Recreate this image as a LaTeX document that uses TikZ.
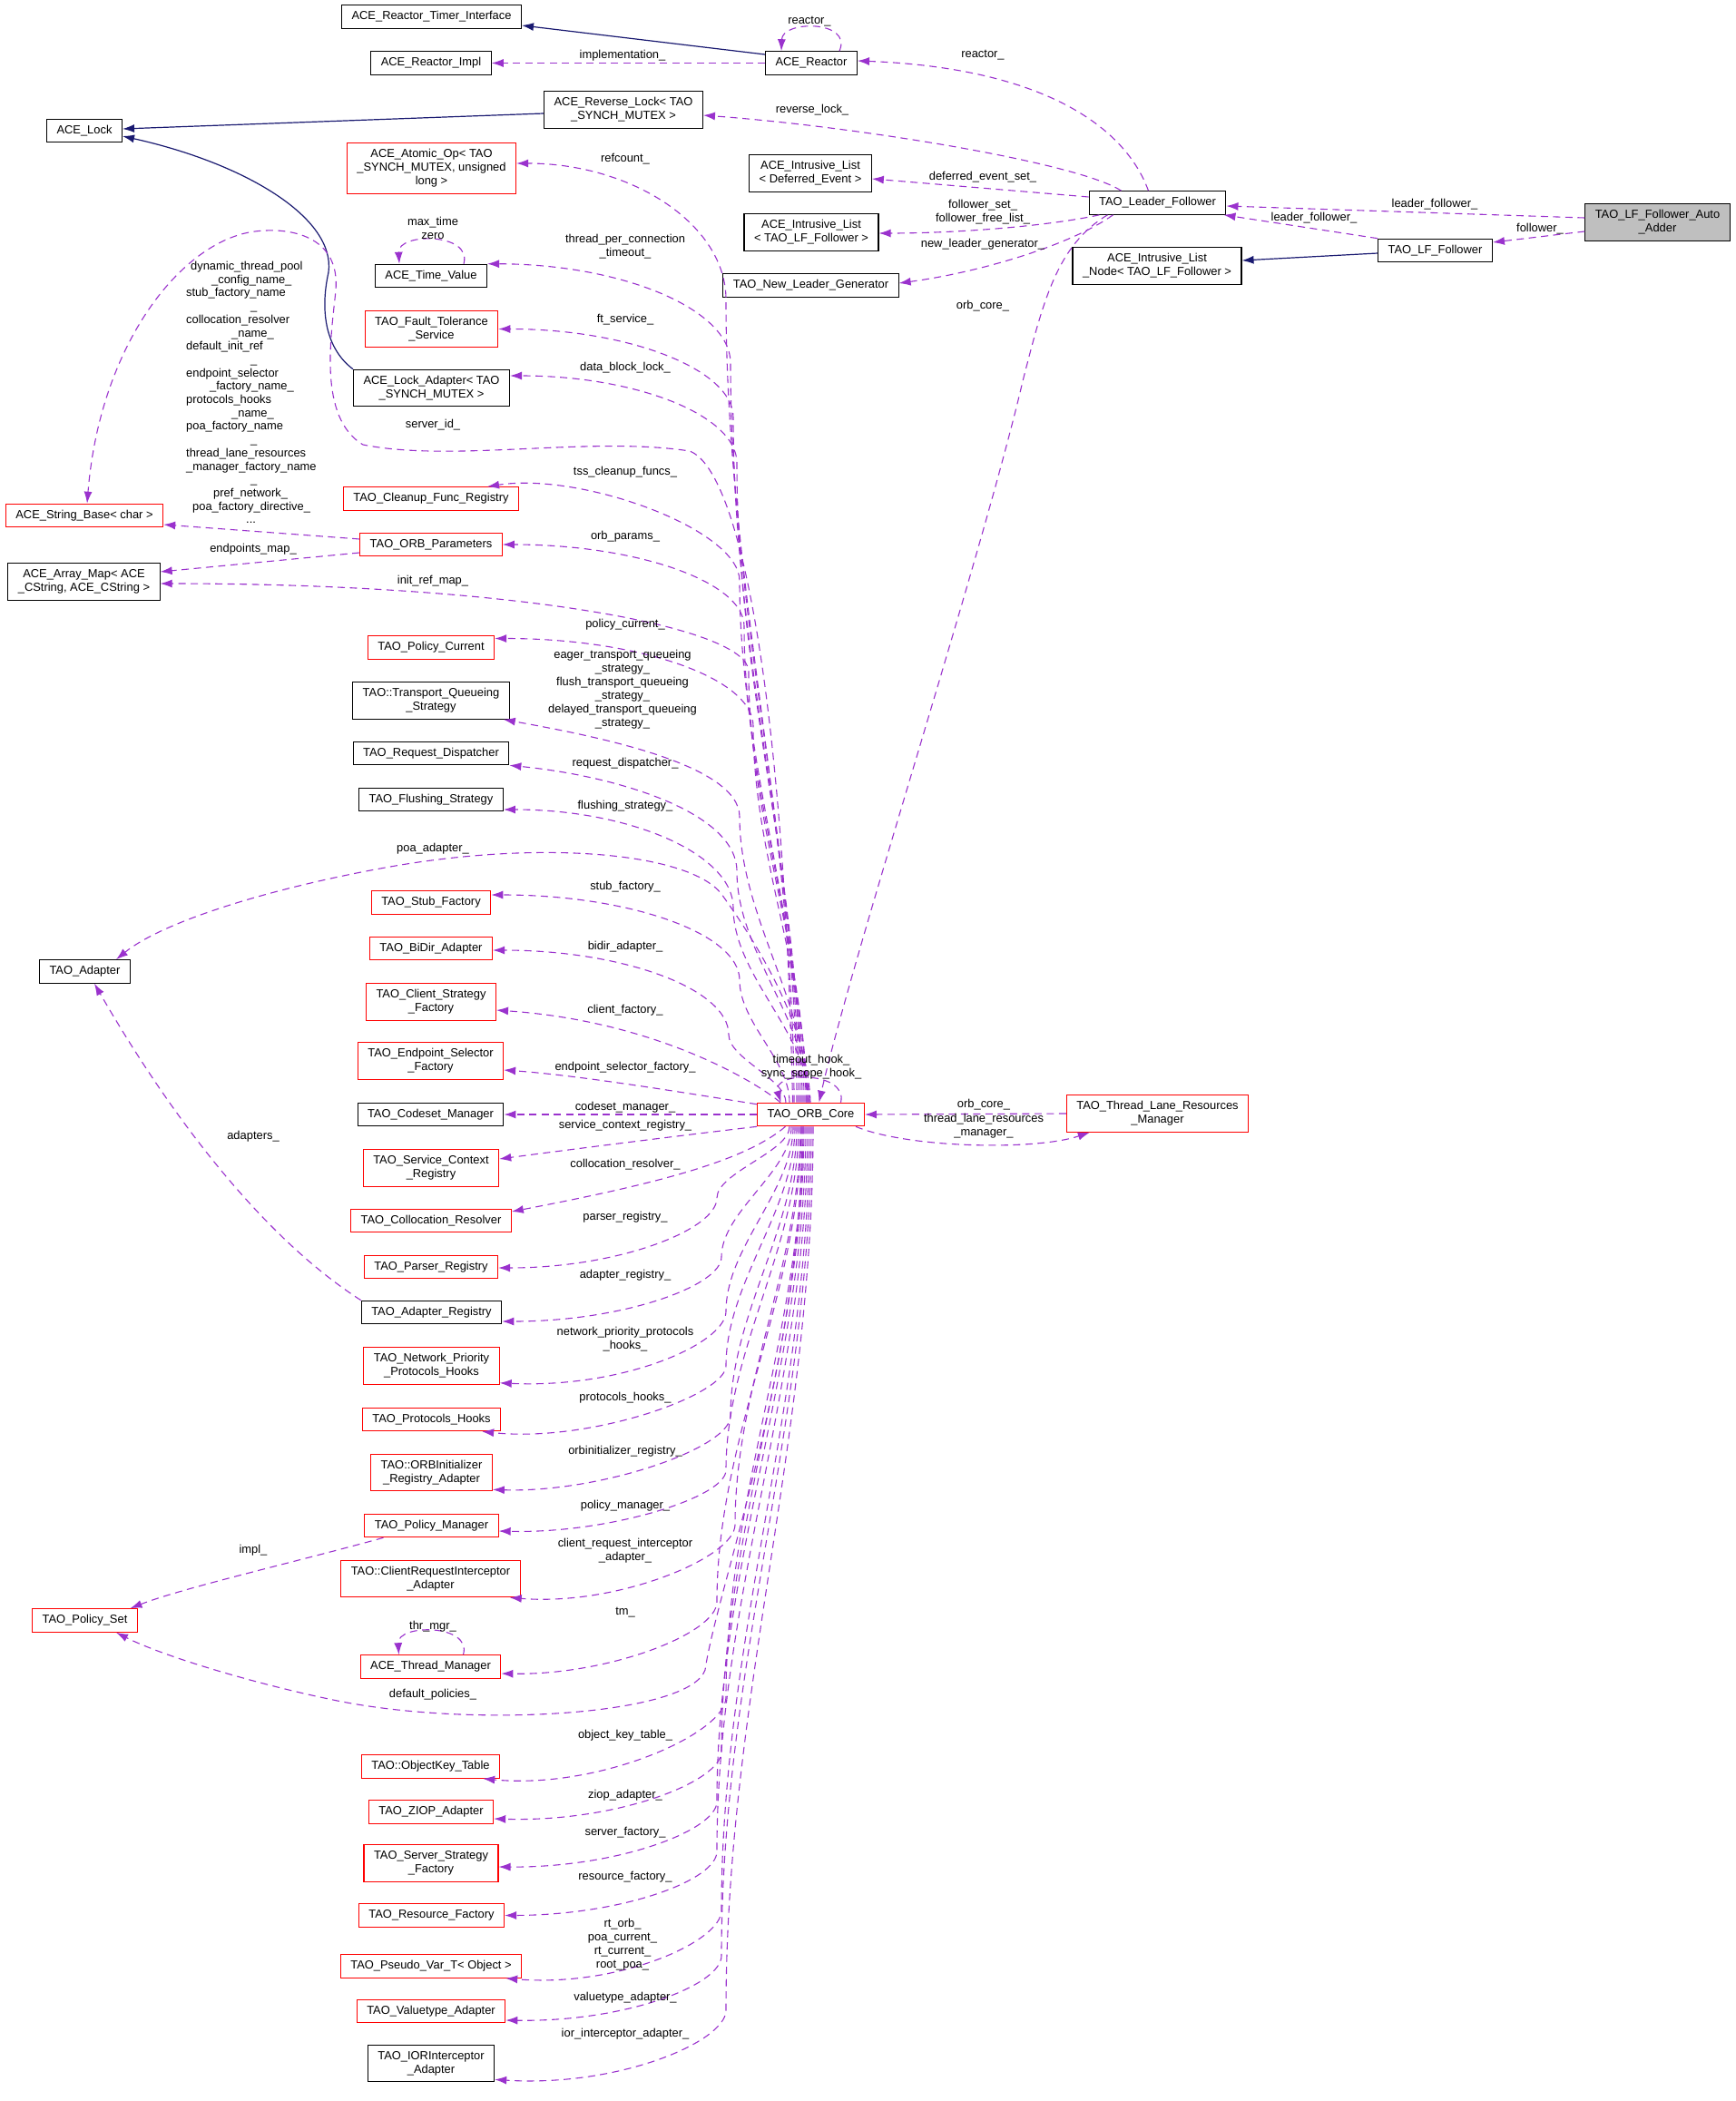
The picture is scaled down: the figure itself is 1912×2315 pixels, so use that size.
\documentclass[tikz,border=0pt]{standalone}
\usepackage{fontspec}
\setmainfont{Liberation Sans}
\usepackage{xcolor}
\usepackage{tikz}
\usetikzlibrary{arrows.meta}
\definecolor{doxred}{HTML}{FF0000}
\definecolor{doxpurple}{HTML}{9A32CD}
\definecolor{doxnavy}{HTML}{191970}
\definecolor{doxgray}{HTML}{BFBFBF}
\tikzset{
  classbox/.style={draw=black,line width=1.1pt,font=\fontsize{12.9}{15}\selectfont,
    inner xsep=11pt,inner ysep=2pt,minimum height=25.5pt,align=center},
  incomplete/.style={classbox,draw=doxred},
  twoline/.style={minimum height=40.5pt},
  threeline/.style={minimum height=55.5pt},
  usage/.style={draw=doxpurple,line width=1.1pt,dash pattern=on 8pt off 5.5pt,
    -{Latex[length=13pt,width=9pt]}},
  inherit/.style={draw=doxnavy,line width=1.2pt,-{Latex[length=13pt,width=9pt]}},
  edgelabel/.style={font=\fontsize{12.9}{15}\selectfont,inner sep=0pt,align=center}
}
\begin{document}
\begin{tikzpicture}[x=1pt,y=-1pt]
\useasboundingbox (0,0) rectangle (1912,2315);
% classes, top part
\node[classbox] (timer) at (475.5,18.5) {ACE\_Reactor\_Timer\_Interface};
\node[classbox] (reactorimpl) at (475,69.5) {ACE\_Reactor\_Impl};
\node[classbox] (reactor) at (894,69.5) {ACE\_Reactor};
\node[classbox,twoline] (revlock) at (687,121) {ACE\_Reverse\_Lock< TAO\\\_SYNCH\_MUTEX >};
\node[classbox] (acelock) at (93,144) {ACE\_Lock};
\node[incomplete,threeline] (atomicop) at (475.5,185.5) {ACE\_Atomic\_Op< TAO\\\_SYNCH\_MUTEX, unsigned\\long >};
\node[classbox,twoline] (dlist) at (893,191) {ACE\_Intrusive\_List\\< Deferred\_Event >};
\node[classbox,twoline] (flist) at (894,256) {ACE\_Intrusive\_List\\< TAO\_LF\_Follower >};
\node[classbox] (newleader) at (893.5,314.5) {TAO\_New\_Leader\_Generator};
\node[classbox] (leader) at (1275.5,223.5) {TAO\_Leader\_Follower};
\node[classbox,twoline,fill=doxgray] (adder) at (1826.5,245) {TAO\_LF\_Follower\_Auto\\\_Adder};
\node[classbox] (lff) at (1581.5,276) {TAO\_LF\_Follower};
\node[classbox,twoline] (lnode) at (1275,293) {ACE\_Intrusive\_List\\\_Node< TAO\_LF\_Follower >};
\node[classbox] (timevalue) at (475,304) {ACE\_Time\_Value};
\node[incomplete,twoline] (ftservice) at (475.5,362.5) {TAO\_Fault\_Tolerance\\\_Service};
\node[classbox,twoline] (lockadapter) at (475.5,427.5) {ACE\_Lock\_Adapter< TAO\\\_SYNCH\_MUTEX >};
\node[incomplete] (strbase) at (93,568) {ACE\_String\_Base< char >};
\node[incomplete] (cleanup) at (475,549.5) {TAO\_Cleanup\_Func\_Registry};
\node[incomplete] (orbparams) at (475,600) {TAO\_ORB\_Parameters};
\node[classbox,twoline] (arraymap) at (92.5,641) {ACE\_Array\_Map< ACE\\\_CString, ACE\_CString >};
\node[incomplete] (policycur) at (475,713.5) {TAO\_Policy\_Current};
\node[classbox,twoline] (transport) at (475,772) {TAO::Transport\_Queueing\\\_Strategy};
\node[classbox] (reqdisp) at (475,830) {TAO\_Request\_Dispatcher};
\node[classbox] (flushing) at (475,881) {TAO\_Flushing\_Strategy};
\node[classbox] (tadapter) at (93.5,1070.5) {TAO\_Adapter};
\node[incomplete] (stubfac) at (475,994.5) {TAO\_Stub\_Factory};
\node[incomplete] (bidir) at (475,1045) {TAO\_BiDir\_Adapter};
\node[incomplete,twoline] (clientfac) at (475,1104) {TAO\_Client\_Strategy\\\_Factory};
\node[incomplete,twoline] (endpoint) at (474.5,1169) {TAO\_Endpoint\_Selector\\\_Factory};
\node[classbox] (codeset) at (474.5,1228) {TAO\_Codeset\_Manager};
\node[incomplete] (core) at (893.5,1228) {TAO\_ORB\_Core};
\node[incomplete,twoline] (tlrm) at (1275.5,1227) {TAO\_Thread\_Lane\_Resources\\\_Manager};
% classes, bottom part
\node[incomplete,twoline] (svcctx) at (475,1287) {TAO\_Service\_Context\\\_Registry};
\node[incomplete] (colloc) at (475,1345) {TAO\_Collocation\_Resolver};
\node[incomplete] (parser) at (475,1396) {TAO\_Parser\_Registry};
\node[classbox] (adapreg) at (475.5,1446) {TAO\_Adapter\_Registry};
\node[incomplete,twoline] (npphooks) at (475.5,1505) {TAO\_Network\_Priority\\\_Protocols\_Hooks};
\node[incomplete] (protohooks) at (475.5,1564) {TAO\_Protocols\_Hooks};
\node[incomplete,twoline] (orbinit) at (475.5,1622.5) {TAO::ORBInitializer\\\_Registry\_Adapter};
\node[incomplete] (policymgr) at (475.5,1681) {TAO\_Policy\_Manager};
\node[incomplete,twoline] (cria) at (474.5,1739.5) {TAO::ClientRequestInterceptor\\\_Adapter};
\node[incomplete] (policyset) at (93.5,1785.5) {TAO\_Policy\_Set};
\node[incomplete] (thrmgr) at (474.5,1836.5) {ACE\_Thread\_Manager};
\node[incomplete] (objkey) at (474.5,1946.5) {TAO::ObjectKey\_Table};
\node[incomplete] (ziop) at (475,1996.5) {TAO\_ZIOP\_Adapter};
\node[incomplete,twoline] (serverfac) at (475,2053) {TAO\_Server\_Strategy\\\_Factory};
\node[incomplete] (resfac) at (475.5,2110.5) {TAO\_Resource\_Factory};
\node[incomplete] (pseudo) at (475,2166.5) {TAO\_Pseudo\_Var\_T< Object >};
\node[incomplete] (valuetype) at (475,2216) {TAO\_Valuetype\_Adapter};
\node[classbox,twoline] (ior) at (475,2273.5) {TAO\_IORInterceptor\\\_Adapter};

% inheritance
\draw[inherit] ([yshift=9.5pt]reactor.west) -- ([yshift=-9.5pt]timer.east);
\draw[inherit] ([yshift=-4pt]revlock.west) -- ([yshift=2pt]acelock.east);
\draw[inherit] (lockadapter.north west) .. controls (360,385) and (352,345) .. (362,300) .. controls (370,240) and (270,180) .. ([yshift=-6pt]acelock.east);
\draw[inherit] ([yshift=-3pt]lff.west) -- ([yshift=6pt]lnode.east);

% reactor and leader/follower members
\draw[usage] (reactor.west) -- (reactorimpl.east);
\draw[usage] ([xshift=31pt]reactor.north) .. controls (940,22) and (862,22) .. ([xshift=-33pt]reactor.north);
\draw[usage] ([xshift=-10pt]leader.north) .. controls (1240,140) and (1150,75) .. ([yshift=2.5pt]reactor.east);
\draw[usage] ([xshift=-40pt]leader.north) .. controls (1190,180) and (950,140) .. ([yshift=-6pt]revlock.east);
\draw[usage] ([yshift=6.5pt]leader.west) -- ([yshift=-6pt]dlist.east);
\draw[usage] ([xshift=12pt]leader.south west) .. controls (1150,250) and (1050,257) .. ([yshift=-1pt]flist.east);
\draw[usage] ([xshift=27pt]leader.south west) .. controls (1180,270) and (1080,300) .. ([yshift=2.5pt]newleader.east);
\draw[usage] ([xshift=-55pt]leader.south) .. controls (1165,270) and (1150,330) .. (1127,420) .. controls (1080,620) and (940,1050) .. ([xshift=9pt]core.north);
\draw[usage] (lff.north west) -- ([xshift=-3pt]leader.south east);
\draw[usage] ([yshift=5pt]adder.west) -- ([yshift=-3.5pt]leader.east);
\draw[usage] ([yshift=-10pt]adder.west) -- ([yshift=9pt]lff.east);

% self loops
\draw[usage] ([xshift=36pt]timevalue.north) .. controls (521,256) and (438,256) .. ([xshift=-35pt]timevalue.north);
\draw[usage] ([xshift=36pt]thrmgr.north) .. controls (520.5,1789) and (437.5,1789) .. ([xshift=-35pt]thrmgr.north);
\draw[usage] ([xshift=33pt]core.north) .. controls (935,1180) and (850,1180) .. ([xshift=-33pt]core.north);

% parameters
\draw[usage] ([yshift=6pt]orbparams.west) -- ([yshift=-10pt]strbase.east);
\draw[usage] ([yshift=-9pt]orbparams.west) -- ([yshift=11pt]arraymap.east);
\draw[usage] (adapreg.north west) .. controls (300,1370) and (200,1250) .. ([xshift=10.5pt]tadapter.south);
\draw[usage] ([xshift=-53pt]policymgr.south) .. controls (330,1720) and (200,1750) .. ([xshift=50pt]policyset.north);

% orb core, upwards
\draw[usage] ([xshift=-18.5pt]core.north) .. controls (875,905) and (800,640) .. (800,330) .. controls (800,247.5) and (696.5,180) .. ([yshift=5.5pt]atomicop.east);
\draw[usage] ([xshift=-15.5pt]core.north) .. controls (878,930) and (805,685) .. (805,400) .. controls (805,340) and (684,291) .. (timevalue.north east);
\draw[usage] ([xshift=-13.5pt]core.north) .. controls (880,951) and (808,724) .. (808,460) .. controls (808,406.5) and (691.5,362.5) .. (ftservice.east);
\draw[usage] ([xshift=-11.5pt]core.north) .. controls (882,968) and (812,757) .. (812,510) .. controls (812,457) and (699.5,414) .. ([yshift=13.5pt]lockadapter.east);
\draw[usage] ([xshift=-20pt]core.north) .. controls (865,800) and (820,520) .. (760,497) .. controls (650,480) and (500,510) .. (400,490) .. controls (350,460) and (365,370) .. (370,320) .. controls (375,260) and (320,250) .. (281,255) .. controls (200,265) and (110,380) .. ([xshift=3pt]strbase.north);
\draw[usage] ([xshift=-9.5pt]core.north) .. controls (884,1014) and (815,841) .. (815,640) .. controls (815,583) and (640,520) .. ([xshift=62pt]cleanup.north);
\draw[usage] ([xshift=-7.5pt]core.north) .. controls (886,1031) and (820,874) .. (820,690) .. controls (820,640.5) and (700,600) .. (orbparams.east);
\draw[usage] ([xshift=-5.5pt]core.north) .. controls (888,1049) and (825,906) .. (825,740) .. controls (825,690) and (560,643) .. ([yshift=-2pt]arraymap.east);
\draw[usage] ([xshift=-4.5pt]core.north) .. controls (889,1070) and (830,945) .. (830,800) .. controls (830,746.5) and (702,703.5) .. ([yshift=10pt]policycur.east);
\draw[usage] ([xshift=-3.5pt]core.north) .. controls (890,1105) and (815,1010) .. (815,900) .. controls (815,841) and (650,810) .. ([xshift=-7pt]transport.south east);
\draw[usage] ([xshift=-2.5pt]core.north) .. controls (891,1126) and (812,1049) .. (812,960) .. controls (812,895) and (680,855) .. (reqdisp.south east);
\draw[usage] ([xshift=-1.5pt]core.north) .. controls (892,1140) and (808,1075) .. (808,1000) .. controls (808,941) and (694,892) .. ([yshift=-11pt]flushing.east);
\draw[usage] ([xshift=-0.5pt]core.north) .. controls (890,1120) and (820,1020) .. (795,985) .. controls (760,940) and (600,925) .. (430,955) .. controls (300,978) and (180,1015) .. ([xshift=34.5pt]tadapter.north);
\draw[usage] ([xshift=-23.5pt]core.north) .. controls (870,1168) and (815,1127) .. (815,1080) .. controls (815,1028) and (692,986) .. ([yshift=8.5pt]stubfac.east);
\draw[usage] ([xshift=-27.5pt]core.north) .. controls (866,1189) and (803,1166) .. (803,1140) .. controls (803,1089) and (685,1047) .. ([yshift=-2pt]bidir.east);
\draw[usage] ([xshift=-33.5pt]core.north) .. controls (830,1190) and (720,1125) .. ([yshift=-9pt]clientfac.east);
\draw[usage] ([yshift=-2pt]core.north west) .. controls (760,1205) and (640,1185) .. ([yshift=-10pt]endpoint.east);
\draw[usage] (core.west) -- (codeset.east);

% orb core, downwards
\draw[usage] (core.south west) .. controls (760,1250) and (640,1265) .. ([yshift=10pt]svcctx.east);
\draw[usage] ([xshift=-28pt]core.south) .. controls (820,1280) and (720,1305) .. ([yshift=10pt]colloc.east);
\draw[usage] ([xshift=-23.5pt]core.south) .. controls (870,1269) and (790,1292) .. (790,1320) .. controls (790,1355) and (681.5,1397) .. ([yshift=-1pt]parser.east);
\draw[usage] ([xshift=-21.5pt]core.south) .. controls (872,1291) and (795,1335) .. (795,1385) .. controls (795,1417) and (686,1456) .. ([yshift=-10pt]adapreg.east);
\draw[usage] ([xshift=-19.5pt]core.south) .. controls (874,1312) and (800,1374) .. (800,1445) .. controls (800,1480) and (688,1530) .. ([yshift=2pt]npphooks.south east);
\draw[usage] ([xshift=-17.5pt]core.south) .. controls (876,1333) and (800,1413) .. (800,1505) .. controls (800,1537) and (650,1590) .. ([xshift=-21pt]protohooks.south east);
\draw[usage] ([xshift=-15.5pt]core.south) .. controls (878,1353) and (805,1448) .. (805,1560) .. controls (805,1596) and (660,1645) .. ([yshift=2pt]orbinit.south east);
\draw[usage] ([xshift=-13.5pt]core.south) .. controls (880,1374) and (800,1487) .. (800,1620) .. controls (800,1650) and (670,1690) .. ([yshift=-6pt]policymgr.east);
\draw[usage] ([xshift=-11.5pt]core.south) .. controls (882,1395) and (810,1526) .. (810,1680) .. controls (810,1716) and (680,1770) .. ([xshift=-12pt]cria.south east);
\draw[usage] ([xshift=-10.5pt]core.south) .. controls (883,1424) and (790,1582) .. (790,1765) .. controls (790,1800) and (670,1846) .. ([yshift=-7.5pt]thrmgr.east);
\draw[usage] ([xshift=-9.5pt]core.south) .. controls (884,1500) and (790,1750) .. (777,1840) .. controls (760,1890) and (520,1905) .. (367,1873) .. controls (280,1855) and (180,1825) .. ([xshift=34.5pt]policyset.south);
\draw[usage] ([xshift=-8.5pt]core.south) .. controls (885,1461) and (800,1650) .. (800,1870) .. controls (800,1910) and (660,1972) .. ([xshift=-19pt]objkey.south east);
\draw[usage] ([xshift=-7.5pt]core.south) .. controls (886,1482) and (795,1689) .. (795,1930) .. controls (795,1963) and (680,2008) .. ([yshift=-7.5pt]ziop.east);
\draw[usage] ([xshift=-5.5pt]core.south) .. controls (888,1501) and (790,1725) .. (790,1985) .. controls (790,2017) and (680,2058) .. ([yshift=-4pt]serverfac.east);
\draw[usage] ([xshift=-3.5pt]core.south) .. controls (890,1521) and (790,1760) .. (790,2040) .. controls (790,2072) and (685,2110) .. (resfac.east);
\draw[usage] ([xshift=-1.5pt]core.south) .. controls (892,1543) and (795,1803) .. (795,2105) .. controls (795,2140) and (680,2190) .. ([xshift=-18pt]pseudo.south east);
\draw[usage] ([xshift=0.5pt]core.south) .. controls (894,1561) and (795,1835) .. (795,2155) .. controls (795,2187) and (690,2228) .. ([yshift=-10pt]valuetype.east);
\draw[usage] ([xshift=2.5pt]core.south) .. controls (896,1582) and (800,1874) .. (800,2215) .. controls (800,2250) and (680,2300) .. ([yshift=3pt]ior.south east);
\draw[usage] (tlrm.west) -- (core.east);
\draw[usage] ([xshift=-10pt]core.south east) .. controls (1000,1265) and (1140,1268) .. ([xshift=26pt]tlrm.south west);

% labels
\node[edgelabel] (l-impl) at (686,61) {implementation\_};
\node[edgelabel] (l-reactorself) at (892,24) {reactor\_};
\node[edgelabel] (l-reactor) at (1083,61) {reactor\_};
\node[edgelabel] (l-revlock) at (895,121) {reverse\_lock\_};
\node[edgelabel] (l-deferred) at (1083,195) {deferred\_event\_set\_};
\node[edgelabel] (l-followerset) at (1083,234) {follower\_set\_\\follower\_free\_list\_};
\node[edgelabel] (l-newleader) at (1083,269) {new\_leader\_generator\_};
\node[edgelabel] (l-orbcore) at (1083,337) {orb\_core\_};
\node[edgelabel] (l-lf1) at (1581,225) {leader\_follower\_};
\node[edgelabel] (l-lf2) at (1448,240) {leader\_follower\_};
\node[edgelabel] (l-follower) at (1697,252) {follower\_};
\node[edgelabel] (l-maxtime) at (477,251.5) {max\_time\\zero};
\node[edgelabel] (l-refcount) at (689,175) {refcount\_};
\node[edgelabel] (l-tpc) at (689,271.5) {thread\_per\_connection\\\_timeout\_};
\node[edgelabel] (l-ft) at (689,352) {ft\_service\_};
\node[edgelabel] (l-dbl) at (689,405) {data\_block\_lock\_};
\node[edgelabel] (l-serverid) at (477,468) {server\_id\_};
\node[edgelabel,font=\fontsize{12.9}{14.7}\selectfont,align=left,anchor=north west] (l-strings) at (205,288)
  {\hspace*{5pt}dynamic\_thread\_pool\\\hspace*{28pt}\_config\_name\_\\stub\_factory\_name\\\hspace*{71pt}\_\\collocation\_resolver\\\hspace*{50pt}\_name\_\\default\_init\_ref\\\hspace*{71pt}\_\\endpoint\_selector\\\hspace*{26pt}\_factory\_name\_\\protocols\_hooks\\\hspace*{50pt}\_name\_\\poa\_factory\_name\\\hspace*{71pt}\_\\thread\_lane\_resources\\\_manager\_factory\_name\\\hspace*{71pt}\_\\\hspace*{30pt}pref\_network\_\\\hspace*{7pt}poa\_factory\_directive\_\\\hspace*{66pt}...};
\node[edgelabel] (l-tss) at (689,520) {tss\_cleanup\_funcs\_};
\node[edgelabel] (l-endpoints) at (279,605) {endpoints\_map\_};
\node[edgelabel] (l-orbparams) at (689,591) {orb\_params\_};
\node[edgelabel] (l-initref) at (477,640) {init\_ref\_map\_};
\node[edgelabel] (l-polcur) at (689,688) {policy\_current\_};
\node[edgelabel] (l-transport) at (686,760) {eager\_transport\_queueing\\\_strategy\_\\flush\_transport\_queueing\\\_strategy\_\\delayed\_transport\_queueing\\\_strategy\_};
\node[edgelabel] (l-reqdisp) at (689,841) {request\_dispatcher\_};
\node[edgelabel] (l-flushing) at (689,888) {flushing\_strategy\_};
\node[edgelabel] (l-poa) at (477,935) {poa\_adapter\_};
\node[edgelabel] (l-stub) at (689,977) {stub\_factory\_};
\node[edgelabel] (l-bidir) at (689,1043) {bidir\_adapter\_};
\node[edgelabel] (l-client) at (689,1113) {client\_factory\_};
\node[edgelabel] (l-endpoint) at (689,1176) {endpoint\_selector\_factory\_};
\node[edgelabel] (l-hooks) at (894,1175.5) {timeout\_hook\_\\sync\_scope\_hook\_};
\node[edgelabel] (l-codeset) at (689,1220) {codeset\_manager\_};
\node[edgelabel] (l-svcctx) at (689,1240) {service\_context\_registry\_};
\node[edgelabel] (l-tlrmcore) at (1084,1217) {orb\_core\_};
\node[edgelabel] (l-tlrm) at (1084,1240.5) {thread\_lane\_resources\\\_manager\_};
\node[edgelabel] (l-adapters) at (279,1252) {adapters\_};
\node[edgelabel] (l-colloc) at (689,1283) {collocation\_resolver\_};
\node[edgelabel] (l-parser) at (689,1341) {parser\_registry\_};
\node[edgelabel] (l-adapreg) at (689,1405) {adapter\_registry\_};
\node[edgelabel] (l-npp) at (689,1475.5) {network\_priority\_protocols\\\_hooks\_};
\node[edgelabel] (l-proto) at (689,1540) {protocols\_hooks\_};
\node[edgelabel] (l-orbinit) at (689,1599) {orbinitializer\_registry\_};
\node[edgelabel] (l-polmgr) at (689,1659) {policy\_manager\_};
\node[edgelabel] (l-impl2) at (279,1708) {impl\_};
\node[edgelabel] (l-cria) at (689,1708.5) {client\_request\_interceptor\\\_adapter\_};
\node[edgelabel] (l-tm) at (689,1777) {tm\_};
\node[edgelabel] (l-thrmgr) at (477,1792) {thr\_mgr\_};
\node[edgelabel] (l-defpol) at (477,1867) {default\_policies\_};
\node[edgelabel] (l-objkey) at (689,1912) {object\_key\_table\_};
\node[edgelabel] (l-ziop) at (689,1978) {ziop\_adapter\_};
\node[edgelabel] (l-serverfac) at (689,2019) {server\_factory\_};
\node[edgelabel] (l-resfac) at (689,2068) {resource\_factory\_};
\node[edgelabel] (l-pseudo) at (686,2142.5) {rt\_orb\_\\poa\_current\_\\rt\_current\_\\root\_poa\_};
\node[edgelabel] (l-valuetype) at (689,2201) {valuetype\_adapter\_};
\node[edgelabel] (l-ior) at (689,2241) {ior\_interceptor\_adapter\_};
\end{tikzpicture}
\end{document}
